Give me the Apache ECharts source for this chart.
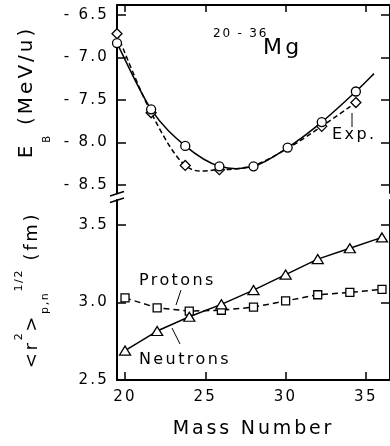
<!DOCTYPE html>
<html>
<head>
<meta charset="utf-8">
<script src="https://cdn.jsdelivr.net/npm/echarts@6/dist/echarts.min.js"></script>
<style>
  html, body { margin: 0; padding: 0; background: #fff; }
  #chart { width: 390px; height: 446px; }
</style>
</head>
<body>
<div id="chart"></div>
<script>
// Binding energy per nucleon, 20-36Mg (upper panel)
const massTheory = [20, 22, 24, 26, 28, 30, 32, 34];
const ebTheory = [-6.83, -7.61, -8.04, -8.28, -8.28, -8.06, -7.76, -7.40];
// the calculated curve runs a little past the last calculated point
const massTheoryCurve = [20, 22, 24, 26, 28, 30, 32, 34, 35.06];
const ebTheoryCurve = [-6.83, -7.61, -8.04, -8.28, -8.28, -8.06, -7.76, -7.40, -7.19];
const massExp = [20, 22, 24, 26, 32, 34];
const ebExp = [-6.72, -7.65, -8.27, -8.32, -7.81, -7.53];
// dashed guide through the measured values
const massExpCurve = [20, 22, 24, 26, 28, 30, 32, 34];
const ebExpCurve = [-6.72, -7.65, -8.27, -8.32, -8.27, -8.07, -7.81, -7.53];

// rms radii of proton and neutron distributions (lower panel)
const massRadius = [20, 22, 24, 26, 28, 30, 32, 34, 36];
const rProtons = [3.03, 2.965, 2.945, 2.95, 2.97, 3.01, 3.05, 3.065, 3.085];
const rNeutrons = [2.69, 2.816, 2.908, 2.988, 3.08, 3.18, 3.28, 3.35, 3.42];

// tick labels
const massTicks = [20, 25, 30, 35];
const ebTicks = [-8.5, -8.0, -7.5, -7.0, -6.5];
const radiusTicks = [2.5, 3.0, 3.5];

// The lettering of this figure is loosely tracked: give canvas text the same
// extra spacing (applied whenever a font is set, so measuring agrees with drawing).
const TRACKING = 0.15;
(function () {
  const proto = window.CanvasRenderingContext2D && CanvasRenderingContext2D.prototype;
  if (!proto || !('letterSpacing' in proto)) return;
  const d = Object.getOwnPropertyDescriptor(proto, 'font');
  if (!d) return;
  Object.defineProperty(proto, 'font', {
    configurable: true,
    enumerable: d.enumerable,
    get: function () { return d.get.call(this); },
    set: function (v) {
      d.set.call(this, v);
      const m = /([\d.]+)px/.exec(v);
      this.letterSpacing = m ? (parseFloat(m[1]) * TRACKING).toFixed(2) + 'px' : '0px';
    }
  });
})();

const FONT = 'DejaVu Sans';
const INK = '#000';

// panel geometry
const LEFT = 117, WIDTH = 276;
const TOP_UP = 5, H_UP = 188;      // upper panel 5..193
const TOP_LO = 200, H_LO = 180;    // lower panel 200..380
// value ranges of the two panels
const EB_MAX = -6.5 + 10 / 85, EB_MIN = -6.5 - 178 / 85;
const R_MIN = 2.5, R_MAX = 2.5 + 180 / 155;

// Catmull-Rom spline through pixel points, written as cubic Bezier path data
function splinePath(pts) {
  let d = 'M' + pts[0][0] + ',' + pts[0][1];
  for (let i = 0; i < pts.length - 1; i++) {
    const p0 = pts[i - 1] || pts[i];
    const p1 = pts[i];
    const p2 = pts[i + 1];
    const p3 = pts[i + 2] || pts[i + 1];
    const c1x = p1[0] + (p2[0] - p0[0]) / 6, c1y = p1[1] + (p2[1] - p0[1]) / 6;
    const c2x = p2[0] - (p3[0] - p1[0]) / 6, c2y = p2[1] - (p3[1] - p1[1]) / 6;
    d += ' C' + c1x + ',' + c1y + ' ' + c2x + ',' + c2y + ' ' + p2[0] + ',' + p2[1];
  }
  return d;
}

// smooth curve series drawn through the axis scales of the upper panel
function curveSeries(name, xs, ys, dash) {
  return {
    name: name, type: 'custom', xAxisIndex: 0, yAxisIndex: 0, silent: true,
    data: xs.map((m, i) => [m, ys[i]]),
    encode: { x: 0, y: 1 },
    renderItem: function (params, api) {
      if (params.dataIndex !== 0) return null;
      const pts = xs.map((m, i) => api.coord([m, ys[i]]));
      return {
        type: 'path',
        shape: { pathData: splinePath(pts) },
        style: { fill: 'none', stroke: INK, lineWidth: 1.5, lineDash: dash || null }
      };
    }
  };
}

const chart = echarts.init(document.getElementById('chart'), null, { renderer: 'canvas' });

const tickLabel = { color: INK, fontFamily: FONT, fontSize: 15 };
const axisLine = { show: true, lineStyle: { color: INK, width: 2 } };
const openSymbol = { color: '#fff', borderColor: INK, borderWidth: 1.3, opacity: 1 };

const option = {
  backgroundColor: '#fff',
  animation: false,
  grid: [
    { left: LEFT, top: TOP_UP, width: WIDTH, height: H_UP },
    { left: LEFT, top: TOP_LO, width: WIDTH, height: H_LO }
  ],
  xAxis: [
    // data scale of the upper panel
    { type: 'value', gridIndex: 0, position: 'bottom', min: 20, max: 36, show: false },
    // top frame with mass ticks
    {
      type: 'value', gridIndex: 0, position: 'top', min: 19.5, max: 36.5,
      axisLine: axisLine,
      axisTick: { show: true, inside: true, length: 7, customValues: massTicks, lineStyle: { color: INK, width: 1.5 } },
      axisLabel: { show: false },
      splitLine: { show: false }
    },
    // bottom axis
    {
      type: 'value', gridIndex: 1, position: 'bottom', min: 19.5, max: 36.5,
      axisLine: axisLine,
      axisTick: { show: true, inside: true, length: 8, customValues: massTicks, lineStyle: { color: INK, width: 1.5 } },
      axisLabel: Object.assign({ customValues: massTicks, margin: 8 }, tickLabel),
      splitLine: { show: false },
      name: 'Mass Number',
      nameLocation: 'middle',
      nameGap: 38,
      nameTextStyle: { color: INK, fontFamily: FONT, fontSize: 19 }
    }
  ],
  yAxis: [
    {
      type: 'value', gridIndex: 0, position: 'left', min: EB_MIN, max: EB_MAX,
      axisLine: axisLine,
      axisTick: { show: true, inside: true, length: 9, customValues: ebTicks, lineStyle: { color: INK, width: 1.5 } },
      axisLabel: Object.assign({
        customValues: ebTicks, margin: 8,
        formatter: v => '- ' + (-v).toFixed(1)
      }, tickLabel),
      splitLine: { show: false }
    },
    {
      type: 'value', gridIndex: 0, position: 'right', min: EB_MIN, max: EB_MAX,
      axisLine: axisLine,
      axisTick: { show: true, inside: true, length: 9, customValues: ebTicks, lineStyle: { color: INK, width: 1.5 } },
      axisLabel: { show: false },
      splitLine: { show: false }
    },
    {
      type: 'value', gridIndex: 1, position: 'left', min: R_MIN, max: R_MAX,
      axisLine: axisLine,
      axisTick: { show: true, inside: true, length: 9, customValues: radiusTicks, lineStyle: { color: INK, width: 1.5 } },
      axisLabel: Object.assign({
        customValues: radiusTicks, margin: 8,
        formatter: v => v.toFixed(1)
      }, tickLabel),
      splitLine: { show: false }
    },
    {
      type: 'value', gridIndex: 1, position: 'right', min: R_MIN, max: R_MAX,
      axisLine: axisLine,
      axisTick: { show: true, inside: true, length: 9, customValues: radiusTicks, lineStyle: { color: INK, width: 1.5 } },
      axisLabel: { show: false },
      splitLine: { show: false }
    }
  ],
  series: [
    curveSeries('Exp. guide', massExpCurve, ebExpCurve, [5, 3]),
    curveSeries('Theory curve', massTheoryCurve, ebTheoryCurve, null),
    {
      name: 'Exp.', type: 'scatter', xAxisIndex: 0, yAxisIndex: 0,
      data: massExp.map((m, i) => [m, ebExp[i]]),
      symbol: 'diamond', symbolSize: 10, silent: true,
      itemStyle: openSymbol
    },
    {
      name: 'Theory', type: 'scatter', xAxisIndex: 0, yAxisIndex: 0,
      data: massTheory.map((m, i) => [m, ebTheory[i]]),
      symbol: 'circle', symbolSize: 9, silent: true,
      itemStyle: openSymbol
    },
    {
      name: 'Protons', type: 'line', xAxisIndex: 2, yAxisIndex: 2,
      data: massRadius.map((m, i) => [m, rProtons[i]]),
      symbol: 'rect', symbolSize: 8, showSymbol: true, silent: true,
      itemStyle: openSymbol,
      lineStyle: { color: INK, width: 1.5, type: [6, 4] }
    },
    {
      name: 'Neutrons', type: 'line', xAxisIndex: 2, yAxisIndex: 2,
      data: massRadius.map((m, i) => [m, rNeutrons[i]]),
      symbol: 'triangle', symbolSize: [11, 9], showSymbol: true, silent: true,
      itemStyle: openSymbol,
      lineStyle: { color: INK, width: 1.5 }
    }
  ],
  graphic: [
    // axis break on the left frame
    { type: 'line', silent: true, shape: { x1: 110, y1: 196, x2: 124, y2: 191.5 }, style: { stroke: INK, lineWidth: 1.5 } },
    { type: 'line', silent: true, shape: { x1: 110, y1: 202.5, x2: 124, y2: 198 }, style: { stroke: INK, lineWidth: 1.5 } },
    // axis titles
    {
      type: 'text', silent: true, x: 27, y: 92, rotation: Math.PI / 2,
      style: {
        text: '{m|E}{s|B}{m| (MeV/u)}',
        align: 'center', verticalAlign: 'middle', textAlign: 'center', textVerticalAlign: 'middle',
        fill: INK, fontFamily: FONT,
        rich: {
          m: { fontSize: 20, fontFamily: FONT, lineHeight: 52, fill: INK },
          s: { fontSize: 10, fontFamily: FONT, lineHeight: 12, verticalAlign: 'bottom', fill: INK }
        }
      }
    },
    {
      type: 'text', silent: true, x: 32, y: 290, rotation: Math.PI / 2,
      style: {
        text: '{m|<r}{p|2}{m|>}{s|p,n}{p|1/2}{m| (fm)}',
        align: 'center', verticalAlign: 'middle', textAlign: 'center', textVerticalAlign: 'middle',
        fill: INK, fontFamily: FONT,
        rich: {
          m: { fontSize: 18, fontFamily: FONT, lineHeight: 38, fill: INK },
          p: { fontSize: 11, fontFamily: FONT, lineHeight: 12, verticalAlign: 'top', fill: INK },
          s: { fontSize: 11, fontFamily: FONT, lineHeight: 12, verticalAlign: 'bottom', fill: INK }
        }
      }
    },
    // isotope chain label
    { type: 'text', silent: true, x: 213, y: 34, style: { text: '20 - 36', fontFamily: FONT, fontSize: 12, fill: INK, align: 'left', verticalAlign: 'middle', textAlign: 'left', textVerticalAlign: 'middle' } },
    { type: 'text', silent: true, x: 263, y: 48, style: { text: 'Mg', fontFamily: FONT, fontSize: 22, fill: INK, align: 'left', verticalAlign: 'middle', textAlign: 'left', textVerticalAlign: 'middle' } },
    // curve annotations
    { type: 'text', silent: true, x: 332, y: 135, style: { text: 'Exp.', fontFamily: FONT, fontSize: 16, fill: INK, align: 'left', verticalAlign: 'middle', textAlign: 'left', textVerticalAlign: 'middle' } },
    { type: 'line', silent: true, shape: { x1: 352, y1: 113, x2: 352, y2: 127 }, style: { stroke: INK, lineWidth: 1 } },
    { type: 'text', silent: true, x: 139, y: 281, style: { text: 'Protons', fontFamily: FONT, fontSize: 16, fill: INK, align: 'left', verticalAlign: 'middle', textAlign: 'left', textVerticalAlign: 'middle' } },
    { type: 'line', silent: true, shape: { x1: 181, y1: 290, x2: 176, y2: 305 }, style: { stroke: INK, lineWidth: 1 } },
    { type: 'text', silent: true, x: 139, y: 360, style: { text: 'Neutrons', fontFamily: FONT, fontSize: 16, fill: INK, align: 'left', verticalAlign: 'middle', textAlign: 'left', textVerticalAlign: 'middle' } },
    { type: 'line', silent: true, shape: { x1: 172, y1: 328, x2: 180, y2: 344 }, style: { stroke: INK, lineWidth: 1 } }
  ]
};

chart.setOption(option);
</script>
</body>
</html>
